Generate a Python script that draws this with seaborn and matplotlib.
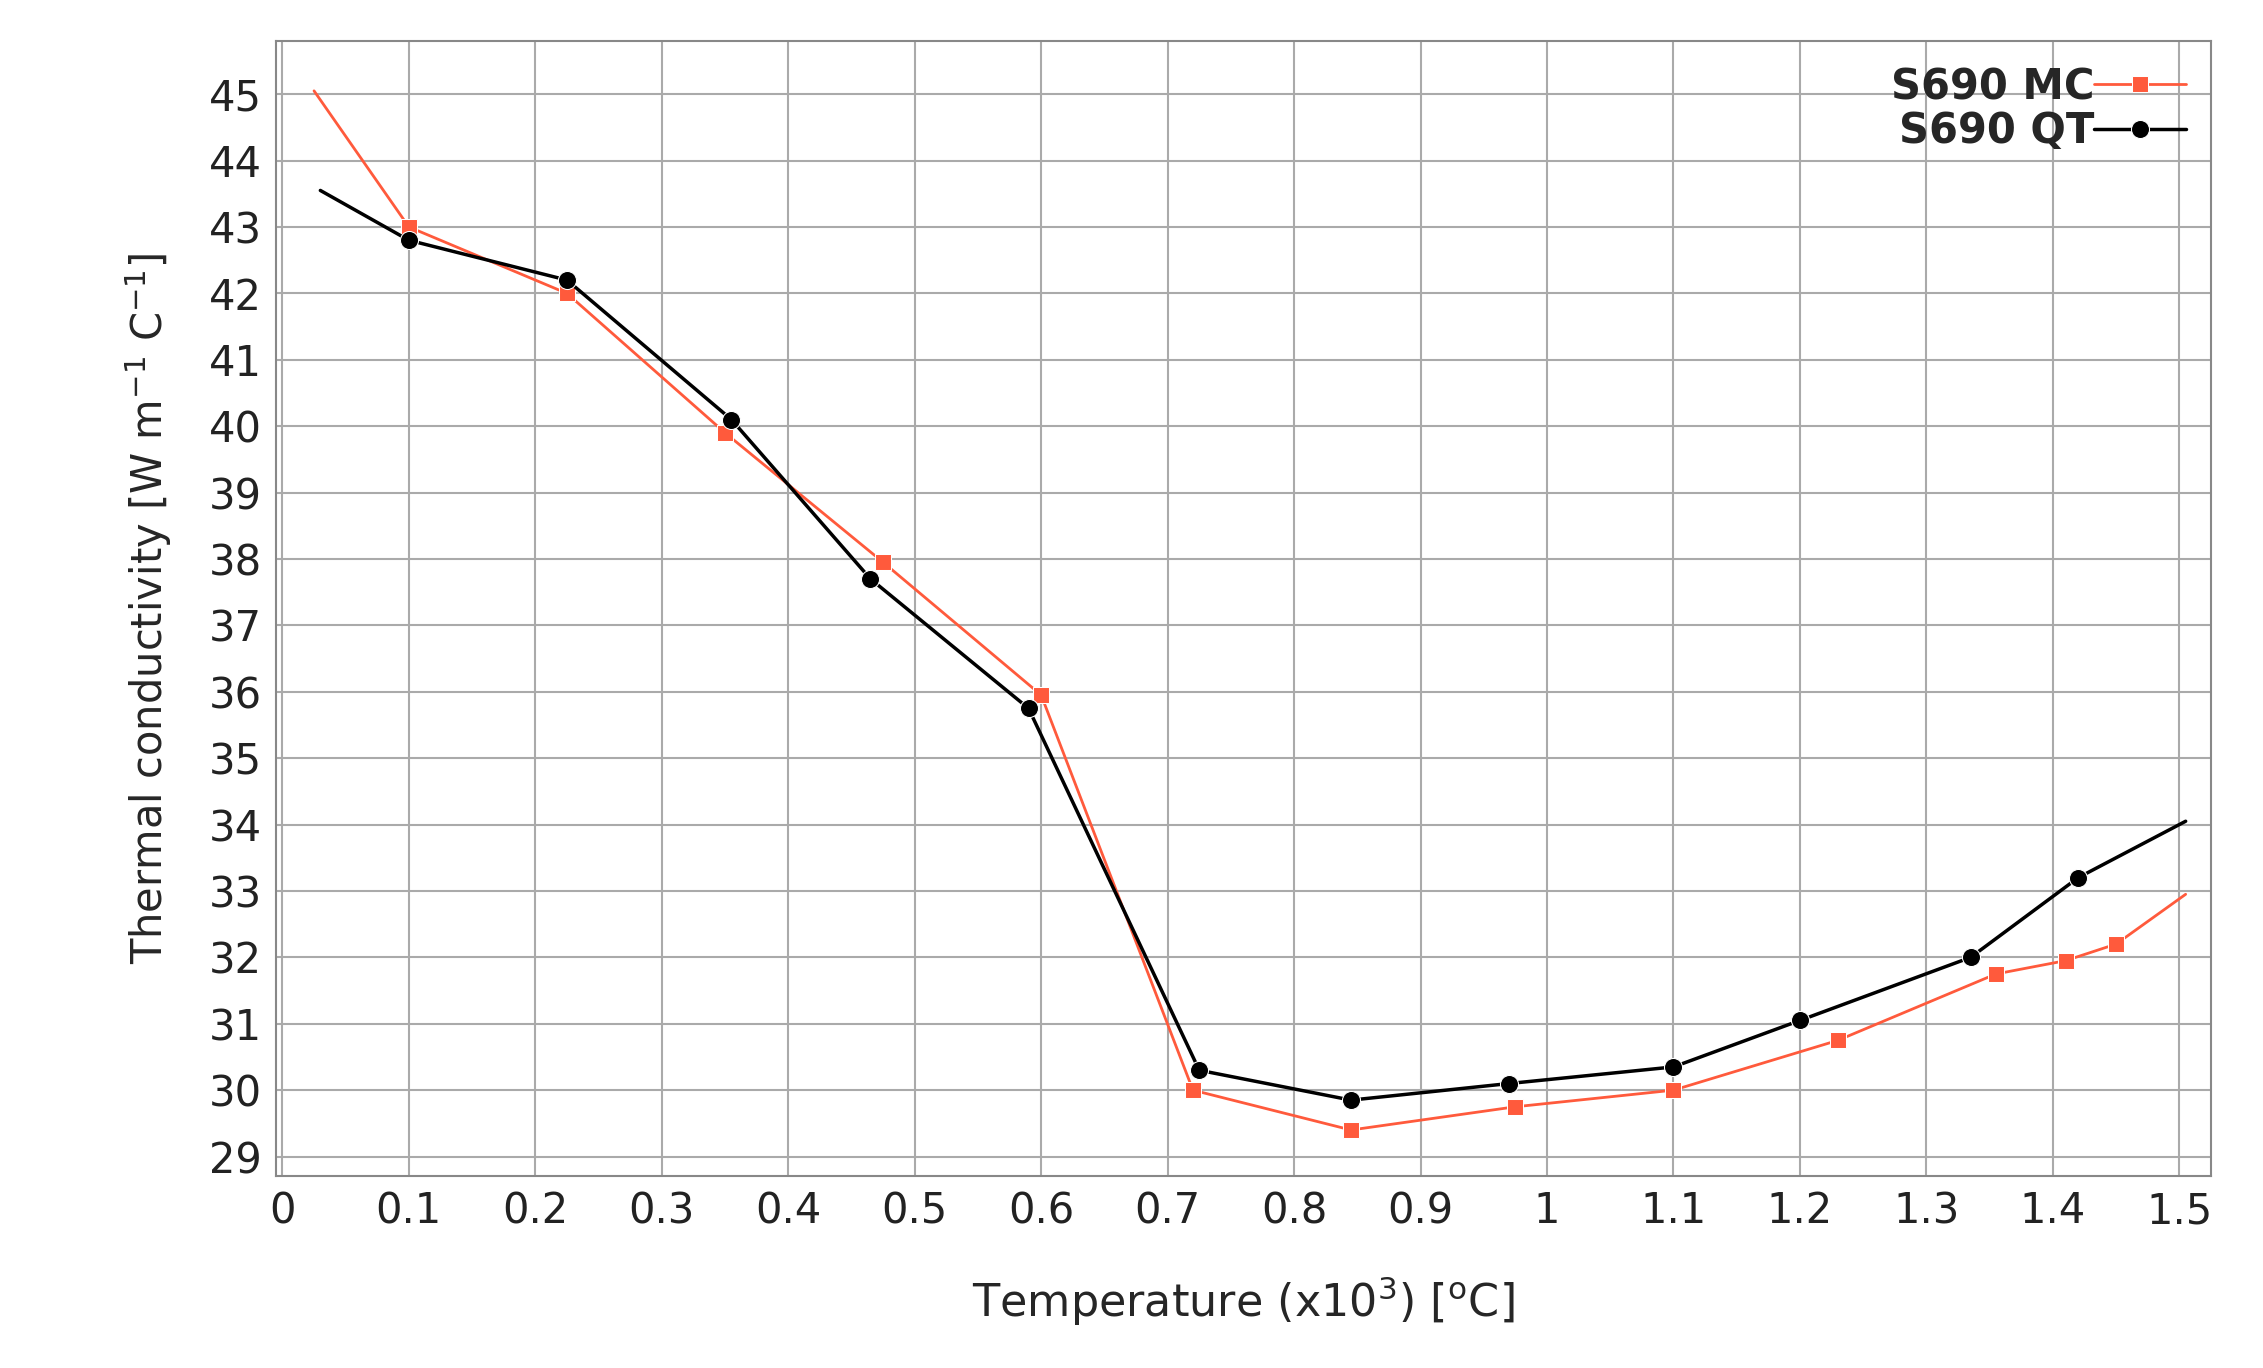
import numpy as np
import pandas as pd
import matplotlib.pyplot as plt
import seaborn as sns

# Data
mc_temp = [0.025, 0.1, 0.225, 0.35, 0.475, 0.6, 0.72, 0.845, 0.975, 1.1, 1.23, 1.355, 1.41, 1.45, 1.505]
mc_cond = [45.05, 43.0, 42.0, 39.9, 37.95, 35.95, 30.0, 29.4, 29.75, 30.0, 30.75, 31.75, 31.95, 32.2, 32.95]
qt_temp = [0.03, 0.1, 0.225, 0.355, 0.465, 0.59, 0.725, 0.845, 0.97, 1.1, 1.2, 1.335, 1.42, 1.505]
qt_cond = [43.55, 42.8, 42.2, 40.1, 37.7, 35.75, 30.3, 29.85, 30.1, 30.35, 31.05, 32.0, 33.2, 34.05]
x_ticks = [0, 0.1, 0.2, 0.3, 0.4, 0.5, 0.6, 0.7, 0.8, 0.9, 1, 1.1, 1.2, 1.3, 1.4, 1.5]
y_ticks = list(range(29, 46))

sns.set_style("white")
plt.rcParams['font.family'] = ['Verdana', 'DejaVu Sans']
plt.rcParams['mathtext.default'] = 'regular'

fig = plt.figure(figsize=(22.63, 13.68), dpi=100)
ax = fig.add_axes([0.122, 0.14, 0.855, 0.83])

df_mc = pd.DataFrame({'t': mc_temp, 'k': mc_cond})
df_qt = pd.DataFrame({'t': qt_temp, 'k': qt_cond})

sns.lineplot(data=df_mc, x='t', y='k', ax=ax, color='#ff5a3c', lw=2, marker='s', markersize=11,
             markevery=list(range(1, len(mc_temp) - 1)), label='S690 MC', sort=False)
sns.lineplot(data=df_qt, x='t', y='k', ax=ax, color='black', lw=2.5, marker='o', markersize=13,
             markevery=list(range(1, len(qt_temp) - 1)), label='S690 QT', sort=False)

ax.set_xlim(-0.005, 1.525)
ax.set_ylim(28.7, 45.8)
ax.set_xticks(x_ticks)
ax.set_xticklabels([str(v) for v in x_ticks])
ax.set_yticks(y_ticks)
ax.grid(True, color='#aaaaaa', lw=1.5)
for s in ax.spines.values():
    s.set_color('#888888')
    s.set_linewidth(1.5)
ax.tick_params(labelsize=30, colors='#222222', length=0, pad=10)
ax.set_xlabel('Temperature (x10$^3$) [$^o$C]', fontsize=32, labelpad=30)
ax.set_ylabel('Thermal conductivity [W m$^{-1}$ C$^{-1}$]', fontsize=30, labelpad=25)

leg = ax.legend(loc='upper right', markerfirst=False, frameon=False, prop={'weight': 'bold', 'size': 30},
                handlelength=2.2, borderaxespad=0.2, labelspacing=0.05, handletextpad=0.0,
                alignment='left')

fig.savefig('out.png', dpi=100)
